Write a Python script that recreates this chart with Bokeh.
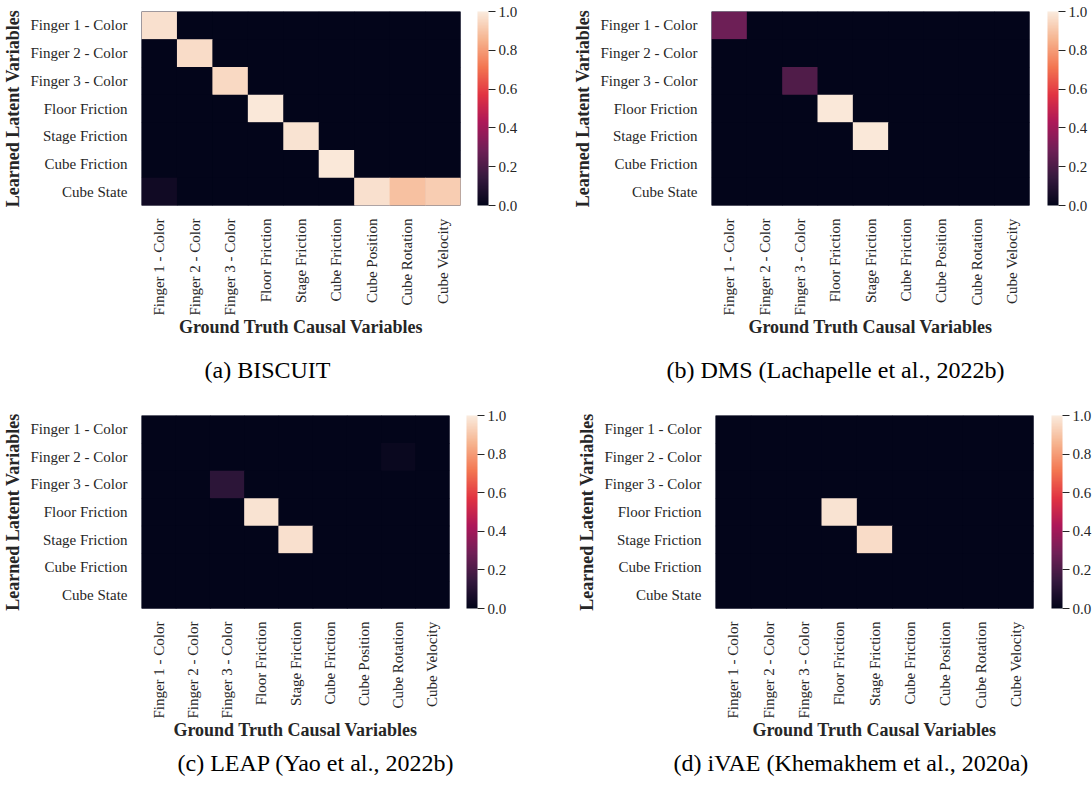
import math
from bokeh.plotting import figure
from bokeh.models import (LinearColorMapper, ColorBar, FixedTicker, ColumnDataSource,
                          Title, FactorRange, PrintfTickFormatter)
from bokeh.layouts import column, row
from bokeh.embed import file_html
from bokeh.resources import INLINE

# ---------------- data ----------------
latent_vars = ["Finger 1 - Color", "Finger 2 - Color", "Finger 3 - Color",
               "Floor Friction", "Stage Friction", "Cube Friction", "Cube State"]
gt_vars = ["Finger 1 - Color", "Finger 2 - Color", "Finger 3 - Color",
           "Floor Friction", "Stage Friction", "Cube Friction",
           "Cube Position", "Cube Rotation", "Cube Velocity"]

biscuit = [
    [0.97, 0.00, 0.00, 0.00, 0.00, 0.00, 0.00, 0.00, 0.00],
    [0.00, 0.96, 0.00, 0.00, 0.00, 0.00, 0.00, 0.00, 0.00],
    [0.00, 0.00, 0.95, 0.00, 0.00, 0.00, 0.00, 0.00, 0.00],
    [0.00, 0.00, 0.00, 0.99, 0.00, 0.00, 0.00, 0.00, 0.00],
    [0.00, 0.00, 0.00, 0.00, 0.98, 0.00, 0.00, 0.00, 0.00],
    [0.00, 0.00, 0.00, 0.00, 0.00, 0.99, 0.00, 0.00, 0.00],
    [0.04, 0.00, 0.00, 0.00, 0.00, 0.00, 0.97, 0.89, 0.92],
]
dms = [
    [0.28, 0.00, 0.00, 0.00, 0.00, 0.00, 0.00, 0.00, 0.00],
    [0.00, 0.00, 0.00, 0.00, 0.00, 0.00, 0.00, 0.00, 0.00],
    [0.00, 0.00, 0.21, 0.00, 0.00, 0.00, 0.00, 0.00, 0.00],
    [0.00, 0.00, 0.00, 0.99, 0.00, 0.00, 0.00, 0.00, 0.00],
    [0.00, 0.00, 0.00, 0.00, 0.99, 0.00, 0.00, 0.00, 0.00],
    [0.00, 0.00, 0.00, 0.00, 0.00, 0.00, 0.00, 0.00, 0.00],
    [0.00, 0.00, 0.00, 0.00, 0.00, 0.00, 0.00, 0.00, 0.00],
]
leap = [
    [0.00, 0.00, 0.00, 0.00, 0.00, 0.00, 0.00, 0.00, 0.00],
    [0.00, 0.00, 0.00, 0.00, 0.00, 0.00, 0.00, 0.02, 0.00],
    [0.00, 0.00, 0.12, 0.00, 0.00, 0.00, 0.00, 0.00, 0.00],
    [0.00, 0.00, 0.00, 0.98, 0.00, 0.00, 0.00, 0.00, 0.00],
    [0.00, 0.00, 0.00, 0.00, 0.97, 0.00, 0.00, 0.00, 0.00],
    [0.00, 0.00, 0.00, 0.00, 0.00, 0.00, 0.00, 0.00, 0.00],
    [0.00, 0.00, 0.00, 0.00, 0.00, 0.00, 0.00, 0.00, 0.00],
]
ivae = [
    [0.00, 0.00, 0.00, 0.00, 0.00, 0.00, 0.00, 0.00, 0.00],
    [0.00, 0.00, 0.00, 0.00, 0.00, 0.00, 0.00, 0.00, 0.00],
    [0.00, 0.00, 0.00, 0.00, 0.00, 0.00, 0.00, 0.00, 0.00],
    [0.00, 0.00, 0.00, 0.98, 0.00, 0.00, 0.00, 0.00, 0.00],
    [0.00, 0.00, 0.00, 0.00, 0.96, 0.00, 0.00, 0.00, 0.00],
    [0.00, 0.00, 0.00, 0.00, 0.00, 0.00, 0.00, 0.00, 0.00],
    [0.00, 0.00, 0.00, 0.00, 0.00, 0.00, 0.00, 0.00, 0.00],
]
captions = ["(a) BISCUIT", "(b) DMS (Lachapelle et al., 2022b)",
            "(c) LEAP (Yao et al., 2022b)", "(d) iVAE (Khemakhem et al., 2020a)"]
cbar_ticks = [0.0, 0.2, 0.4, 0.6, 0.8, 1.0]

# ---------------- colormap (seaborn "rocket") ----------------
rocket_anchors = [(0.0, "#03051A"), (1/7, "#35193E"), (2/7, "#701F57"), (3/7, "#AD1759"),
                  (4/7, "#E13342"), (5/7, "#F37651"), (6/7, "#F6B48F"), (1.0, "#FAEBDD")]


def build_palette(anchors, n=256):
    def h2r(h):
        return [int(h[i:i + 2], 16) for i in (1, 3, 5)]
    out = []
    for k in range(n):
        t = k / (n - 1)
        for (t0, c0), (t1, c1) in zip(anchors[:-1], anchors[1:]):
            if t0 <= t <= t1:
                f = (t - t0) / (t1 - t0)
                a, b = h2r(c0), h2r(c1)
                rgb = [round(a[i] + (b[i] - a[i]) * f) for i in range(3)]
                out.append("#%02x%02x%02x" % tuple(rgb))
                break
    return out


palette = build_palette(rocket_anchors)
TXT = "#262626"
FONT = "Liberation Serif"


def make_panel(matrix, caption, cap_offset, cap_standoff, cb_gap, bl, bt, br, bb, fw, fh):
    mapper = LinearColorMapper(palette=palette, low=0.0, high=1.0)
    xs, ys, vs = [], [], []
    for i, lat in enumerate(latent_vars):
        for j, g in enumerate(gt_vars):
            xs.append(g)
            ys.append(lat)
            vs.append(matrix[i][j])
    src = ColumnDataSource(dict(x=xs, y=ys, v=vs))
    p = figure(x_range=FactorRange(*gt_vars), y_range=FactorRange(*reversed(latent_vars)),
               frame_width=fw, frame_height=fh,
               min_border_left=bl, min_border_top=bt, min_border_right=br, min_border_bottom=bb,
               output_backend="svg", toolbar_location=None, tools="",
               background_fill_color=palette[0], border_fill_color="white")
    p.rect("x", "y", 1, 1, source=src,
           fill_color={"field": "v", "transform": mapper},
           line_color=None, dilate=True)
    p.grid.visible = False
    p.outline_line_color = None
    for ax in (p.xaxis[0], p.yaxis[0]):
        ax.axis_line_color = None
        ax.major_tick_line_color = None
        ax.minor_tick_line_color = None
        ax.major_label_text_font = FONT
        ax.major_label_text_font_size = "15px"
        ax.major_label_text_color = TXT
        ax.axis_label_text_font = FONT
        ax.axis_label_text_font_size = "18px"
        ax.axis_label_text_font_style = "bold"
        ax.axis_label_text_color = TXT
    p.xaxis.major_label_standoff = 7
    p.xaxis.axis_label_standoff = -2
    p.yaxis.major_label_standoff = 8
    p.yaxis.axis_label_standoff = 4
    p.xaxis.major_label_orientation = math.pi / 2
    p.xaxis.axis_label = "Ground Truth Causal Variables"
    p.yaxis.axis_label = "Learned Latent Variables"

    # transparent spacer between heatmap and colour bar
    spacer = ColorBar(color_mapper=mapper, ticker=FixedTicker(ticks=[]),
                      width=cb_gap, height=fh, padding=0, margin=0, location="top_left",
                      scale_alpha=0.0, major_tick_line_color=None, minor_tick_line_color=None,
                      major_label_text_alpha=0.0, label_standoff=0,
                      bar_line_color=None, border_line_color=None, background_fill_color=None)
    p.add_layout(spacer, "right")

    cb = ColorBar(color_mapper=mapper, ticker=FixedTicker(ticks=cbar_ticks),
                  formatter=PrintfTickFormatter(format="%.1f"),
                  width=11, height=fh, padding=0, margin=0, location="top_left",
                  major_tick_in=0, major_tick_out=7, major_tick_line_color=TXT,
                  major_tick_line_width=1.2,
                  major_label_text_font=FONT, major_label_text_font_size="15px",
                  major_label_text_color=TXT, label_standoff=3,
                  bar_line_color=None, border_line_color=None, background_fill_color=None)
    p.add_layout(cb, "right")

    t = Title(text=caption, text_font=FONT, text_font_size="24px", text_font_style="normal",
              text_color="#000000", align="left", offset=cap_offset, standoff=cap_standoff)
    p.add_layout(t, "below")
    return p


pa = make_panel(biscuit, captions[0], 63, 30, 17, 132, 11, 110, 196, 319, 194)
pb = make_panel(dms, captions[1], -45, 30, 18, 141, 11, 56, 196, 318, 194)
pc = make_panel(leap, captions[2], 36, 11, 17, 128, 14, 125, 170, 308, 193)
pd = make_panel(ivae, captions[3], -42, 11, 18, 141, 14, 56, 170, 318, 193)

layout = column(row(pa, pb), row(pc, pd))
open("out.html", "w").write(file_html(layout, INLINE))
